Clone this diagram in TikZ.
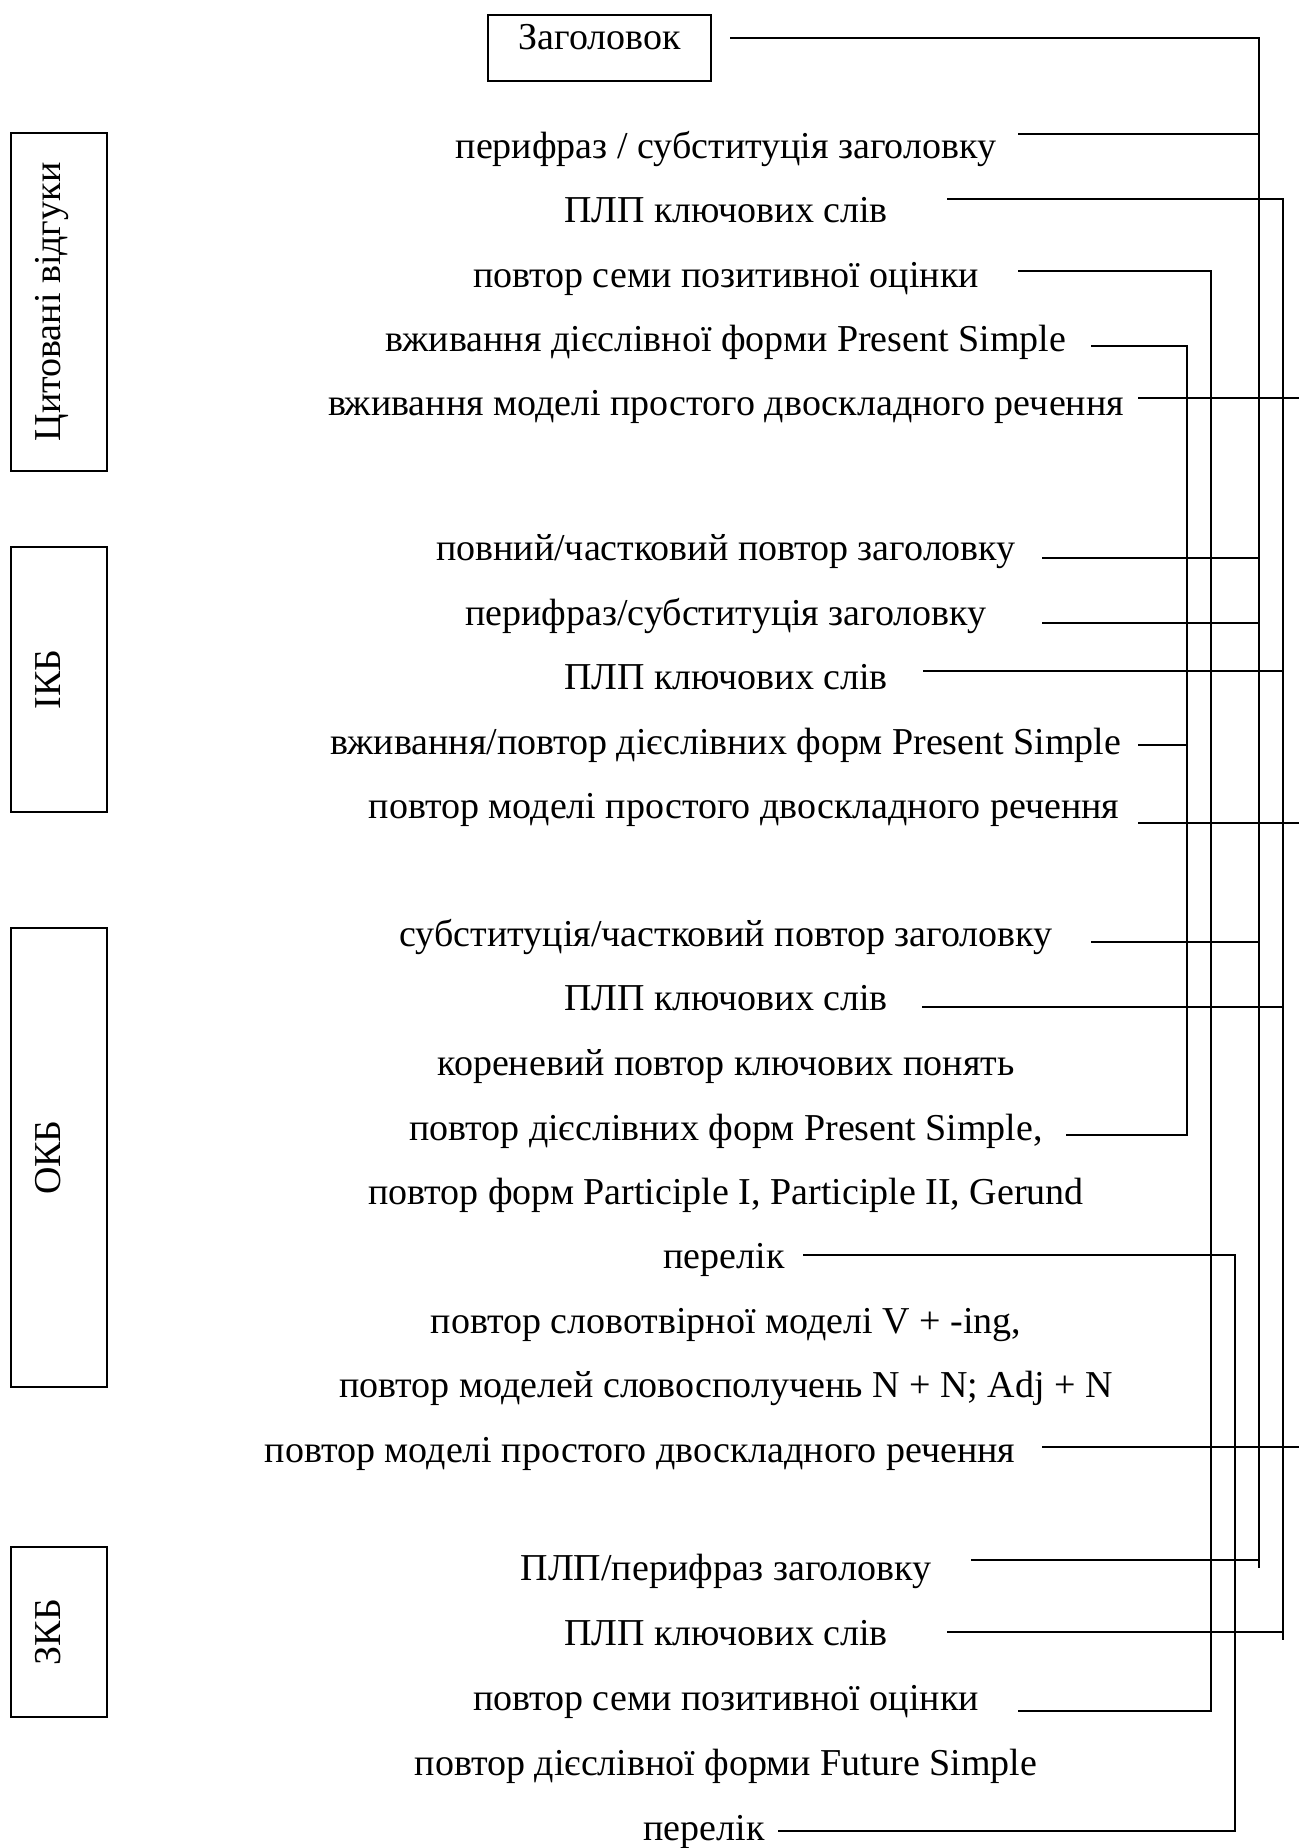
\documentclass[tikz,border=0pt]{standalone}
\usepackage{fontspec}
\setmainfont{Liberation Serif}
\newcommand{\lblfont}{\fontsize{19pt}{23pt}\selectfont}
\begin{document}
\begin{tikzpicture}[x=0.5pt,y=-0.5pt,
  lbl/.style={font=\lblfont, inner sep=0pt, anchor=base},
  titlebox/.style={draw, line width=1.2pt, font=\lblfont, anchor=north, inner xsep=0pt, inner ysep=0pt,
     minimum width=111.5pt, text height=17pt, text depth=16pt},
  sidebox/.style={draw, line width=1.2pt, font=\lblfont, rotate=90, inner sep=0pt,
     text height=25pt, text depth=23pt},
  conn/.style={line width=1.1pt}]
\fill[white] (0,0) rectangle (1299,1848);
\useasboundingbox (0,0) rectangle (1299,1848);

% boxes
\node[titlebox] (title) at (599.5,14) {Заголовок};
\node[sidebox, minimum width=169pt] (cit) at (59,302) {Цитовані відгуки};
\node[sidebox, minimum width=132.5pt] (ikb) at (59,679.5) {ІКБ};
\node[sidebox, minimum width=229.5pt] (okb) at (59,1157.5) {ОКБ};
\node[sidebox, minimum width=85pt] (zkb) at (59,1632) {ЗКБ};

% labels
\node[lbl] (t1) at (726,158) {перифраз / субституція заголовку};
\node[lbl] (t2) at (726,222) {ПЛП ключових слів};
\node[lbl] (t3) at (726,287) {повтор семи позитивної оцінки};
\node[lbl] (t4) at (726,351) {вживання дієслівної форми Present Simple};
\node[lbl] (t5) at (726,415.5) {вживання моделі простого двоскладного речення};
\node[lbl] (t6) at (726,560.5) {повний/частковий повтор заголовку};
\node[lbl] (t7) at (726,625) {перифраз/субституція заголовку};
\node[lbl] (t8) at (726,689.5) {ПЛП ключових слів};
\node[lbl] (t9) at (726,754) {вживання/повтор дієслівних форм Present Simple};
\node[lbl] (t10) at (744,818.5) {повтор моделі простого двоскладного речення};
\node[lbl] (t11) at (726,946) {субституція/частковий повтор заголовку};
\node[lbl] (t12) at (726,1010.5) {ПЛП ключових слів};
\node[lbl] (t13) at (726,1075) {кореневий повтор ключових понять};
\node[lbl] (t14) at (726,1140) {повтор дієслівних форм Present Simple,};
\node[lbl] (t15) at (726,1204) {повтор форм Participle I, Participle II, Gerund};
\node[lbl] (t16) at (724,1268.5) {перелік};
\node[lbl] (t17) at (726,1333) {повтор словотвірної моделі V + -ing,};
\node[lbl] (t18) at (726,1397.5) {повтор моделей словосполучень N + N; Adj + N};
\node[lbl] (t19) at (640,1462) {повтор моделі простого двоскладного речення};
\node[lbl] (t20) at (726,1580) {ПЛП/перифраз заголовку};
\node[lbl] (t21) at (726,1645) {ПЛП ключових слів};
\node[lbl] (t22) at (726,1710) {повтор семи позитивної оцінки};
\node[lbl] (t23) at (726,1775) {повтор дієслівної форми Future Simple};
\node[lbl] (t24) at (704,1840) {перелік};

% connector start points
\coordinate (c0) at (730,38);
\coordinate (c1) at (1018,134);
\coordinate (c2) at (947,199);
\coordinate (c3) at (1018,271);
\coordinate (c4) at (1091,346);
\coordinate (c5) at (1138,398);
\coordinate (c6) at (1042,558);
\coordinate (c7) at (1042,623);
\coordinate (c8) at (923,671);
\coordinate (c9) at (1138,745);
\coordinate (c10) at (1138,823);
\coordinate (c11) at (1091,942);
\coordinate (c12) at (922,1007);
\coordinate (c14) at (1066,1135);
\coordinate (c16) at (803,1255);
\coordinate (c19) at (1042,1447);
\coordinate (c20) at (971,1560);
\coordinate (c21) at (947,1632);
\coordinate (c22) at (1018,1711);
\coordinate (c24) at (778,1831);

% bus ends
\coordinate (V1t) at (1187,346);  \coordinate (V1b) at (1187,1135);
\coordinate (V2t) at (1211,271);  \coordinate (V2b) at (1211,1711);
\coordinate (V3t) at (1259,38);   \coordinate (V3b) at (1259,1568);
\coordinate (V4t) at (1283,199);  \coordinate (V4b) at (1283,1640);
\coordinate (V5t) at (1235,1255); \coordinate (V5b) at (1235,1831);
\coordinate (E) at (1299,0);

% buses
\draw[conn] (c4) -- (V1t) -- (V1b) -- (c14);
\draw[conn] (c3) -- (V2t) -- (V2b) -- (c22);
\draw[conn] (c0) -- (V3t) -- (V3b);
\draw[conn] (c2) -- (V4t) -- (V4b);
\draw[conn] (c16) -- (V5t) -- (V5b) -- (c24);

% branches
\draw[conn] (c9) -- (c9 -| V1t);
\draw[conn] (c1) -- (c1 -| V3t);
\draw[conn] (c6) -- (c6 -| V3t);
\draw[conn] (c7) -- (c7 -| V3t);
\draw[conn] (c11) -- (c11 -| V3t);
\draw[conn] (c20) -- (c20 -| V3t);
\draw[conn] (c8) -- (c8 -| V4t);
\draw[conn] (c12) -- (c12 -| V4t);
\draw[conn] (c21) -- (c21 -| V4t);
\draw[conn] (c5) -- (c5 -| E);
\draw[conn] (c10) -- (c10 -| E);
\draw[conn] (c19) -- (c19 -| E);
\end{tikzpicture}
\end{document}
